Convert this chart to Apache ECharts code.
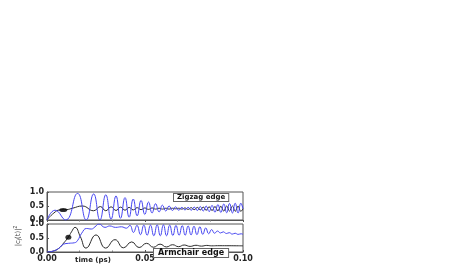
<!DOCTYPE html>
<html>
<head>
<meta charset="utf-8">
<script src="https://cdn.jsdelivr.net/npm/echarts@6/dist/echarts.min.js"></script>
<style>html,body{margin:0;padding:0;background:#fff}#c{width:463px;height:273px}</style>
</head>
<body>
<div id="c"></div>
<script>
// ticks
var xTicks = [0, 0.05, 0.10];
var yTicks = [0, 0.5, 1.0];
// Zigzag edge panel (top)
var zigzagBlue = [[0,0],[0.0041,0.35],[0.0095,0.0],[0.0156,0.95],[0.0200,0.0],[0.0238,0.93],[0.0270,0.0],[0.0300,0.9],[0.0327,0.03],[0.0352,0.86],[0.0375,0.06],[0.0398,0.8],[0.0419,0.1],[0.0440,0.75],[0.0460,0.15],[0.0480,0.7],[0.0499,0.2],[0.0518,0.64],[0.0536,0.25],[0.0554,0.58],[0.0572,0.29],[0.0589,0.53],[0.0606,0.32],[0.0623,0.5],[0.0640,0.34],[0.0656,0.47],[0.0672,0.35],[0.0688,0.45],[0.0704,0.36],[0.0720,0.45],[0.0736,0.35],[0.0751,0.46],[0.0767,0.34],[0.0782,0.48],[0.0797,0.32],[0.0812,0.5],[0.0827,0.3],[0.0842,0.52],[0.0857,0.28],[0.0872,0.55],[0.0887,0.27],[0.0902,0.57],[0.0917,0.26],[0.0931,0.59],[0.0946,0.25],[0.0960,0.6],[0.0975,0.25],[0.0989,0.6],[0.1,0.4]];
var zigzagBlack = [[0,0],[0.0035,0.25],[0.0066,0.36],[0.0100,0.37],[0.0130,0.42],[0.0180,0.5],[0.0238,0.33],[0.0272,0.48],[0.0300,0.33],[0.0327,0.47],[0.0352,0.34],[0.0375,0.46],[0.0398,0.35],[0.0419,0.45],[0.0440,0.36],[0.0460,0.44],[0.0480,0.37],[0.0499,0.43],[0.0518,0.38],[0.0536,0.43],[0.0554,0.39],[0.0572,0.42],[0.0589,0.39],[0.0606,0.42],[0.0623,0.39],[0.0640,0.42],[0.0656,0.4],[0.0672,0.42],[0.0688,0.39],[0.0704,0.43],[0.0720,0.38],[0.0736,0.44],[0.0751,0.37],[0.0767,0.45],[0.0782,0.36],[0.0797,0.46],[0.0812,0.35],[0.0827,0.47],[0.0842,0.34],[0.0857,0.48],[0.0872,0.33],[0.0887,0.49],[0.0902,0.32],[0.0917,0.5],[0.0931,0.32],[0.0946,0.5],[0.0960,0.31],[0.0975,0.5],[0.0989,0.31],[0.1,0.4]];
var zigzagDot = [[0.0083,0.36]];
// Armchair edge panel (bottom)
var armchairBlue = [[0,0],[0.003,0.03],[0.006,0.13],[0.0085,0.28],[0.011,0.31],[0.014,0.33],[0.0155,0.4],[0.0177,0.67],[0.0202,0.84],[0.0226,0.82],[0.0245,0.9],[0.0265,1.0],[0.0296,0.88],[0.032,0.93],[0.035,0.88],[0.038,0.9],[0.0405,0.85],[0.0423,0.95],[0.0441,0.7],[0.0459,0.95],[0.0477,0.62],[0.0494,0.96],[0.0511,0.6],[0.0528,0.96],[0.0545,0.58],[0.0562,0.97],[0.0578,0.58],[0.0594,0.97],[0.061,0.58],[0.0626,0.96],[0.0642,0.59],[0.0658,0.95],[0.0674,0.6],[0.069,0.94],[0.0705,0.6],[0.072,0.93],[0.0735,0.61],[0.075,0.92],[0.0765,0.62],[0.078,0.9],[0.0795,0.63],[0.081,0.86],[0.0825,0.65],[0.084,0.8],[0.0855,0.67],[0.087,0.75],[0.0885,0.68],[0.09,0.72],[0.0915,0.66],[0.093,0.69],[0.0945,0.64],[0.096,0.67],[0.0975,0.63],[0.099,0.65],[0.1,0.63]];
var armchairBlack = [[0,0],[0.003,0.03],[0.006,0.13],[0.0085,0.32],[0.0109,0.53],[0.0125,0.72],[0.0143,0.88],[0.0170,0.55],[0.0199,0.14],[0.025,0.61],[0.0299,0.14],[0.0347,0.44],[0.039,0.15],[0.0432,0.36],[0.047,0.16],[0.0508,0.31],[0.0543,0.17],[0.0577,0.28],[0.0609,0.18],[0.0641,0.26],[0.0671,0.19],[0.07,0.25],[0.073,0.2],[0.076,0.24],[0.0788,0.21],[0.0815,0.235],[0.084,0.22],[0.087,0.225],[0.1,0.22]];
var armchairDot = [[0.0109,0.53]];

var BLUE = '#4646f0', BLACK = '#2a2a2a', FONT = 'DejaVu Sans';
var chart = echarts.init(document.getElementById('c'));
function xAx(grid, pos, labels) {
  return {type:'value', gridIndex:grid, position:pos, min:xTicks[0], max:xTicks[2], interval:xTicks[1]-xTicks[0],
    axisLine:{show:true, lineStyle:{color:'#555', width:1}},
    axisTick:{show:true, inside:true, length:2, lineStyle:{color:'#555'}},
    minorTick:{show:true, splitNumber:3, length:1.5, lineStyle:{color:'#777'}},
    splitLine:{show:false},
    axisLabel:{show:labels, margin:3, fontSize:8, fontWeight:'bold', fontFamily:FONT, color:'#222',
      formatter:function(v){return v.toFixed(2);}}};
}
function yAx(grid) {
  return {type:'value', gridIndex:grid, min:yTicks[0], max:yTicks[2], interval:yTicks[1]-yTicks[0],
    axisLine:{show:true, lineStyle:{color:'#555', width:1}},
    axisTick:{show:true, inside:true, length:2, lineStyle:{color:'#555'}},
    splitLine:{show:false},
    axisLabel:{margin:3, fontSize:8, fontWeight:'bold', fontFamily:FONT, color:'#222',
      formatter:function(v){return v.toFixed(1);}}};
}
function line(data, color, xi, yi) {
  return {type:'line', data:data, xAxisIndex:xi, yAxisIndex:yi, smooth:0.5, showSymbol:false,
    lineStyle:{color:color, width:1}, silent:true, animation:false};
}
function dot(data, size, xi, yi) {
  return {type:'scatter', data:data, xAxisIndex:xi, yAxisIndex:yi, symbol:'circle', symbolSize:size,
    itemStyle:{color:'#000'}, z:5, animation:false};
}
chart.setOption({
  animation:false,
  grid:[
    {left:47, top:192, width:196, height:28, show:true, borderColor:'#555', borderWidth:1},
    {left:47, top:224, width:196, height:28, show:true, borderColor:'#555', borderWidth:1}
  ],
  xAxis:[xAx(0,'top',false), xAx(1,'bottom',true)],
  yAxis:[yAx(0), yAx(1)],
  series:[
    line(zigzagBlack, BLACK, 0, 0),
    line(zigzagBlue, BLUE, 0, 0),
    dot(zigzagDot, [8,4], 0, 0),
    line(armchairBlack, BLACK, 1, 1),
    line(armchairBlue, BLUE, 1, 1),
    dot(armchairDot, [6,5], 1, 1)
  ],
  graphic:[
    {type:'text', left:173, top:193, z:10, style:{text:'Zigzag edge', fontSize:7, fontWeight:'bold', fontFamily:FONT,
      fill:'#111', backgroundColor:'#fff', borderColor:'#666', borderWidth:1, padding:[0,3]}},
    {type:'text', left:153, top:248, z:10, style:{text:'Armchair edge', fontSize:8, fontWeight:'bold', fontFamily:FONT,
      fill:'#111', backgroundColor:'#fff', borderColor:'#666', borderWidth:1, padding:[0,4]}},
    {type:'text', x:93, y:260, z:10, style:{text:'time (ps)', fontSize:7, fontWeight:'bold', fontFamily:FONT,
      fill:'#222', align:'center', verticalAlign:'middle'}},
    {type:'text', x:18, y:236, rotation:Math.PI/2, z:10, style:{text:'|c{s|j}(t)|{p|2}', fontSize:7, fontFamily:FONT,
      fill:'#444', align:'center', verticalAlign:'middle',
      rich:{s:{fontSize:5, fill:'#444', padding:[4,0,0,0]}, p:{fontSize:5, fill:'#444', padding:[0,0,4,0]}}}}
  ]
});
</script>
</body>
</html>
